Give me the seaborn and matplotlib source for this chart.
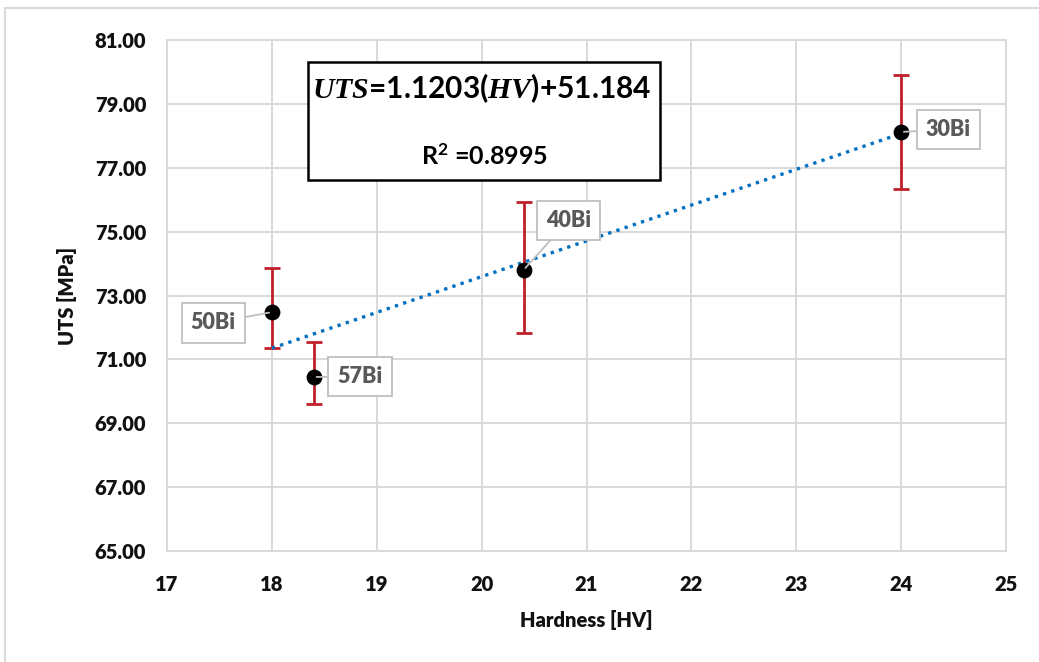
import matplotlib
matplotlib.use("Agg")
import matplotlib.pyplot as plt
from matplotlib.patches import Rectangle
import numpy as np
import pandas as pd
import seaborn as sns

# Sample data: hardness vs ultimate tensile strength
alloys = ["50Bi", "57Bi", "40Bi", "30Bi"]
hardness = [18.0, 18.4, 20.4, 24.0]
uts = [72.48, 70.45, 73.80, 78.12]
uts_err_low = [1.12, 0.85, 1.97, 1.78]
uts_err_high = [1.38, 1.09, 2.13, 1.78]

# Linear fit reported in the chart
slope = 1.1203
intercept = 51.184
r_squared = 0.8995

x_ticks = [17, 18, 19, 20, 21, 22, 23, 24, 25]
y_ticks = [65, 67, 69, 71, 73, 75, 77, 79, 81]

# label offsets (data units) for the callouts
label_offsets = {"50Bi": (-0.56, -0.34), "57Bi": (0.44, 0.0),
                 "40Bi": (0.43, 1.56), "30Bi": (0.45, 0.09)}

df = pd.DataFrame({"alloy": alloys, "hardness": hardness, "uts": uts,
                   "lo": uts_err_low, "hi": uts_err_high})

sns.set_theme(style="whitegrid")
plt.rcParams["font.family"] = ["Lato", "DejaVu Sans"]
plt.rcParams["mathtext.fontset"] = "custom"
plt.rcParams["mathtext.it"] = "Liberation Serif:italic:bold"
plt.rcParams["mathtext.rm"] = "Lato:bold"

fig = plt.figure(figsize=(10.39, 6.62), dpi=100)
fig.patch.set_facecolor("white")
ax = fig.add_axes([167 / 1039, 1 - 551 / 662, (1006 - 167) / 1039, (551 - 40) / 662])
ax.set_facecolor("white")

# outer chart frame
fig.patches.append(Rectangle((5 / 1039, -0.2), 1.2, 1.2 - 8 / 662,
                             transform=fig.transFigure, fill=False,
                             edgecolor="#D9D9D9", lw=1.5, zorder=0))

# trend line
fit_x = np.array([min(hardness), max(hardness)])
fit_df = pd.DataFrame({"hardness": fit_x, "uts": slope * fit_x + intercept})
sns.lineplot(data=fit_df, x="hardness", y="uts", ax=ax, color="#0070C0",
             lw=2.4, linestyle=(0, (1, 1.6)), zorder=3)

# error bars
ax.errorbar(df["hardness"], df["uts"], yerr=[df["lo"], df["hi"]], fmt="none",
            ecolor="#C0202A", elinewidth=2, capsize=6, capthick=2, zorder=2)

# points
sns.scatterplot(data=df, x="hardness", y="uts", ax=ax, color="black", s=130,
                edgecolor="black", linewidth=0, zorder=4, legend=False)

# callout labels
for a, hx, uy in zip(alloys, hardness, uts):
    dx, dy = label_offsets[a]
    ax.annotate(a, xy=(hx, uy), xytext=(hx + dx, uy + dy), ha="center", va="center",
                fontsize=15.5, fontweight="heavy", color="#595959", zorder=5,
                bbox=dict(boxstyle="square,pad=0.42", fc="white", ec="#BFBFBF", lw=1.3),
                arrowprops=dict(arrowstyle="-", color="#BFBFBF", lw=1.3,
                                shrinkA=0, shrinkB=2))

ax.set_xlim(17, 25)
ax.set_ylim(65, 81)
ax.set_xticks(x_ticks)
ax.set_yticks(y_ticks)
ax.set_xticklabels([str(t) for t in x_ticks])
ax.set_yticklabels([f"{t:.2f}" for t in y_ticks])
ax.tick_params(axis="both", length=0, labelsize=14.5, labelcolor="#111111")
ax.tick_params(axis="y", pad=15)
ax.tick_params(axis="x", pad=17)
for lab in ax.get_xticklabels() + ax.get_yticklabels():
    lab.set_fontweight("heavy")
ax.grid(True, color="#D9D9D9", lw=1.4)
for s in ax.spines.values():
    s.set_color("#D9D9D9")
    s.set_linewidth(1.4)

ax.set_xlabel("Hardness [HV]", fontsize=14.5, fontweight="heavy", color="#111111", labelpad=12)
ax.set_ylabel("UTS [MPa]", fontsize=14.5, fontweight="heavy", color="#111111", labelpad=13)

# equation box
box = Rectangle(((308 - 167) / 839, 1 - (180 - 40) / 511), (660 - 308) / 839, (180 - 62) / 511,
                transform=ax.transAxes, fill=True, fc="white", ec="black", lw=1.8, zorder=6)
ax.add_patch(box)
ax.text((482 - 167) / 839, 1 - (88 - 40) / 511,
        r"$\mathit{UTS}$=1.1203($\mathit{HV}$)+51.184",
        transform=ax.transAxes, ha="center", va="center", fontsize=21.5,
        fontweight="bold", color="black", zorder=7)
ax.text((484 - 167) / 839, 1 - (155 - 40) / 511,
        r"R$^{\mathregular{2}}$ =" + f"{r_squared:.4f}",
        transform=ax.transAxes, ha="center", va="center", fontsize=18,
        fontweight="bold", color="black", zorder=7)

fig.savefig("out.png", dpi=100, facecolor="white")
